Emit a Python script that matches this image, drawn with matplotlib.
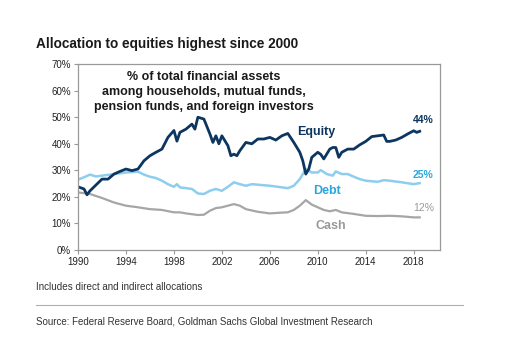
import matplotlib
matplotlib.use("Agg")
import matplotlib.pyplot as plt
from matplotlib.lines import Line2D

plt.rcParams['font.family'] = ['Liberation Sans', 'DejaVu Sans']

# ---- data (percent of total financial assets) ----
eq_years = [1990, 1990.5, 1990.75, 1991, 1991.5, 1992, 1992.5, 1993, 1993.5, 1994, 1994.5,
            1995, 1995.5, 1996, 1996.5, 1997, 1997.5, 1998, 1998.25, 1998.5, 1999, 1999.5,
            1999.75, 2000, 2000.5, 2001, 2001.25, 2001.5, 2001.75, 2002, 2002.5, 2002.75,
            2003, 2003.25, 2003.5, 2004, 2004.5, 2005, 2005.5, 2006, 2006.5, 2007, 2007.5,
            2008, 2008.5, 2008.75, 2009, 2009.25, 2009.5, 2010, 2010.25, 2010.5, 2011,
            2011.25, 2011.5, 2011.75, 2012, 2012.5, 2013, 2013.5, 2014, 2014.5, 2015,
            2015.5, 2015.75, 2016, 2016.5, 2017, 2017.5, 2018, 2018.25, 2018.5]
equity = [23.8, 23.0, 20.8, 22.3, 24.5, 26.7, 26.7, 28.6, 29.6, 30.5, 29.9,
          30.5, 33.6, 35.5, 36.8, 38.0, 42.4, 45.0, 41.0, 44.3, 45.5, 47.4,
          45.5, 50.0, 49.3, 43.7, 40.5, 43.0, 40.0, 43.0, 39.3, 35.5,
          36.1, 35.5, 37.4, 40.5, 40.0, 41.8, 41.8, 42.4, 41.4, 43.0, 43.9,
          40.5, 36.8, 33.6, 28.6, 30.5, 34.9, 36.8, 36.0, 34.3, 38.0,
          38.6, 38.6, 34.9, 36.8, 38.0, 38.0, 39.6, 40.9, 42.7, 43.0,
          43.3, 40.9, 40.9, 41.4, 42.4, 43.7, 44.9, 44.3, 44.7]

debt_years = [1990, 1990.5, 1991, 1991.5, 1992, 1993, 1994, 1995, 1995.5, 1996, 1996.5,
              1997, 1997.5, 1998, 1998.25, 1998.5, 1999, 1999.5, 2000, 2000.5, 2001,
              2001.5, 2002, 2002.5, 2003, 2003.5, 2004, 2004.5, 2005, 2006, 2007, 2007.5,
              2008, 2008.5, 2009, 2009.5, 2010, 2010.25, 2010.75, 2011.25, 2011.5, 2012,
              2012.5, 2013, 2013.5, 2014, 2015, 2015.5, 2016, 2017, 2018, 2018.5]
debt = [26.5, 27.4, 28.4, 27.7, 28.0, 28.6, 29.2, 29.5, 28.4, 27.6, 27.1,
        26.1, 24.8, 23.8, 24.8, 23.6, 23.3, 23.0, 21.3, 21.1, 22.3,
        23.0, 22.3, 23.8, 25.5, 24.8, 24.2, 24.8, 24.6, 24.2, 23.6, 23.3,
        24.2, 26.7, 30.5, 29.2, 29.2, 30.1, 28.6, 28.0, 29.6, 28.6,
        28.6, 27.6, 26.7, 26.1, 25.7, 26.3, 26.1, 25.5, 24.8, 25.2]

cash_years = [1990, 1991, 1992, 1993, 1994, 1995, 1996, 1997, 1998, 1998.5, 1999, 2000,
              2000.5, 2001, 2001.5, 2002, 2002.5, 2003, 2003.5, 2004, 2005, 2006, 2007,
              2007.5, 2008, 2008.5, 2009, 2009.5, 2010, 2010.5, 2011, 2011.5, 2012, 2013,
              2014, 2015, 2016, 2017, 2018, 2018.5]
cash = [21.7, 21.1, 19.6, 17.9, 16.7, 16.1, 15.4, 15.1, 14.2, 14.2, 13.8, 13.2,
        13.3, 14.8, 15.8, 16.1, 16.7, 17.3, 16.7, 15.4, 14.4, 13.8, 14.1,
        14.2, 15.1, 16.7, 18.8, 17.1, 16.1, 15.1, 14.6, 15.1, 14.2, 13.6,
        12.9, 12.8, 12.9, 12.7, 12.3, 12.3]

x_ticks = [1990, 1994, 1998, 2002, 2006, 2010, 2014, 2018]
y_ticks = [0, 10, 20, 30, 40, 50, 60, 70]
y_tick_labels = ["0%", "10%", "20%", "30%", "40%", "50%", "60%", "70%"]

NAVY = "#0c365f"
LIGHT = "#8fcdee"
LIGHT_TXT = "#2aa7df"
GRAY = "#a6a6a6"
GRAY_TXT = "#999999"

fig = plt.figure(figsize=(5.15, 3.64), dpi=100)
ax = fig.add_axes([0.1515, 0.313, 0.703, 0.511])

ax.plot(cash_years, cash, color=GRAY, lw=1.6, solid_joinstyle='round')
ax.plot(debt_years, debt, color=LIGHT, lw=1.8, solid_joinstyle='round')
ax.plot(eq_years, equity, color=NAVY, lw=2.0, solid_joinstyle='round')

ax.set_xlim(1990, 2020.2)
ax.set_ylim(0, 70)
ax.set_xticks(x_ticks)
ax.set_xticklabels([str(t) for t in x_ticks])
ax.set_yticks(y_ticks)
ax.set_yticklabels(y_tick_labels)
ax.tick_params(axis='both', labelsize=7, colors="#222222", length=3, width=0.8,
               color="#999999", pad=2)
for s in ax.spines.values():
    s.set_color("#999999")
    s.set_linewidth(0.9)

ax.text(0.347, 0.965, "% of total financial assets\namong households, mutual funds,\npension funds, and foreign investors",
        transform=ax.transAxes, ha='center', va='top', fontsize=9, fontweight='bold',
        color="#1a1a1a", linespacing=1.35)

ax.text(2009.9, 44.5, "Equity", color=NAVY, fontsize=9, fontweight='bold', ha='center', va='center')
ax.text(2010.8, 22.2, "Debt", color=LIGHT_TXT, fontsize=9, fontweight='bold', ha='center', va='center')
ax.text(2011.1, 9.0, "Cash", color=GRAY_TXT, fontsize=9, fontweight='bold', ha='center', va='center')
ax.text(2018.8, 48.9, "44%", color=NAVY, fontsize=7.5, fontweight='bold', ha='center', va='center')
ax.text(2018.8, 28.2, "25%", color=LIGHT_TXT, fontsize=7.5, fontweight='bold', ha='center', va='center')
ax.text(2018.8, 15.8, "12%", color=GRAY_TXT, fontsize=7.5, ha='center', va='center')

fig.text(36 / 515, 1 - 44 / 364, "Allocation to equities highest since 2000", fontsize=9.8,
         fontweight='bold', color="#1a1a1a", ha='left', va='center')
fig.text(36 / 515, 1 - 287 / 364, "Includes direct and indirect allocations", fontsize=7.1,
         color="#333333", ha='left', va='center')
fig.add_artist(Line2D([36 / 515, 463 / 515], [1 - 305 / 364, 1 - 305 / 364],
                      transform=fig.transFigure, color="#b0b0b0", lw=0.8))
fig.text(36 / 515, 1 - 322 / 364, "Source: Federal Reserve Board, Goldman Sachs Global Investment Research",
         fontsize=7.0, color="#333333", ha='left', va='center')

fig.savefig("out.png", dpi=100)
